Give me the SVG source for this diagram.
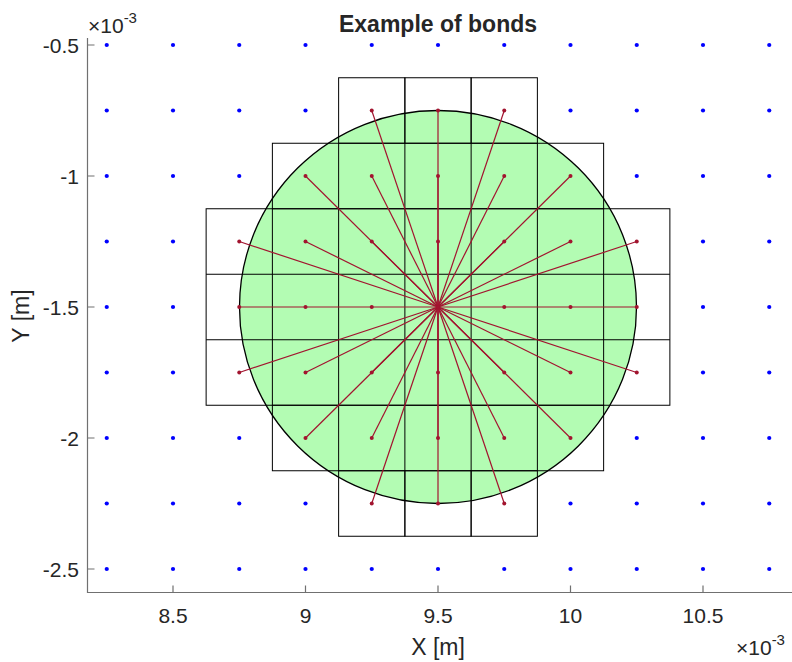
<svg xmlns="http://www.w3.org/2000/svg" xmlns:xlink="http://www.w3.org/1999/xlink" width="792" height="662" viewBox="0 0 792 662">
<style>
text{font-family:"Liberation Sans",Arial,sans-serif;fill:#262626}
.tk{font-size:21px}
.lab{font-size:23px}
.cell{fill:none;stroke:#000;stroke-width:1}
.bond line{stroke:#A2142F;stroke-width:1.2}
.ax{stroke:#707070;stroke-width:1.2;fill:none}
</style>
<defs>
<circle id="b" r="2.1" fill="#0000FF"/>
<circle id="r" r="2" fill="#A2142F"/>
</defs>
<rect width="792" height="662" fill="#fff"/>
<g id="circle"><ellipse cx="438" cy="307" rx="198.5" ry="196.5" fill="#B3FCB3" stroke="#000" stroke-width="1.3"/></g>
<g id="cells">
<rect class="cell" x="338.625" y="77.75" width="66.25" height="65.5"/>
<rect class="cell" x="404.875" y="77.75" width="66.25" height="65.5"/>
<rect class="cell" x="471.125" y="77.75" width="66.25" height="65.5"/>
<rect class="cell" x="272.375" y="143.25" width="331.25" height="65.5"/>
<line class="cell" x1="338.625" y1="143.25" x2="338.625" y2="208.75"/>
<line class="cell" x1="404.875" y1="143.25" x2="404.875" y2="208.75"/>
<line class="cell" x1="471.125" y1="143.25" x2="471.125" y2="208.75"/>
<line class="cell" x1="537.375" y1="143.25" x2="537.375" y2="208.75"/>
<rect class="cell" x="206.125" y="208.75" width="463.75" height="196.5"/>
<line class="cell" x1="206.125" y1="274.25" x2="669.875" y2="274.25"/>
<line class="cell" x1="206.125" y1="339.75" x2="669.875" y2="339.75"/>
<line class="cell" x1="272.375" y1="208.75" x2="272.375" y2="405.25"/>
<line class="cell" x1="338.625" y1="208.75" x2="338.625" y2="405.25"/>
<line class="cell" x1="404.875" y1="208.75" x2="404.875" y2="405.25"/>
<line class="cell" x1="471.125" y1="208.75" x2="471.125" y2="405.25"/>
<line class="cell" x1="537.375" y1="208.75" x2="537.375" y2="405.25"/>
<line class="cell" x1="603.625" y1="208.75" x2="603.625" y2="405.25"/>
<rect class="cell" x="272.375" y="405.25" width="331.25" height="65.5"/>
<line class="cell" x1="338.625" y1="405.25" x2="338.625" y2="470.75"/>
<line class="cell" x1="404.875" y1="405.25" x2="404.875" y2="470.75"/>
<line class="cell" x1="471.125" y1="405.25" x2="471.125" y2="470.75"/>
<line class="cell" x1="537.375" y1="405.25" x2="537.375" y2="470.75"/>
<rect class="cell" x="338.625" y="470.75" width="66.25" height="65.5"/>
<rect class="cell" x="404.875" y="470.75" width="66.25" height="65.5"/>
<rect class="cell" x="471.125" y="470.75" width="66.25" height="65.5"/>
</g>
<g id="connectors" class="bond">
<line x1="438" y1="307" x2="371.75" y2="110.5"/>
<line x1="438" y1="307" x2="438" y2="110.5"/>
<line x1="438" y1="307" x2="504.25" y2="110.5"/>
<line x1="438" y1="307" x2="305.5" y2="176"/>
<line x1="438" y1="307" x2="371.75" y2="176"/>
<line x1="438" y1="307" x2="438" y2="176"/>
<line x1="438" y1="307" x2="504.25" y2="176"/>
<line x1="438" y1="307" x2="570.5" y2="176"/>
<line x1="438" y1="307" x2="239.25" y2="241.5"/>
<line x1="438" y1="307" x2="305.5" y2="241.5"/>
<line x1="438" y1="307" x2="371.75" y2="241.5"/>
<line x1="438" y1="307" x2="438" y2="241.5"/>
<line x1="438" y1="307" x2="504.25" y2="241.5"/>
<line x1="438" y1="307" x2="570.5" y2="241.5"/>
<line x1="438" y1="307" x2="636.75" y2="241.5"/>
<line x1="438" y1="307" x2="239.25" y2="307"/>
<line x1="438" y1="307" x2="636.75" y2="307"/>
<line x1="438" y1="307" x2="239.25" y2="372.5"/>
<line x1="438" y1="307" x2="305.5" y2="372.5"/>
<line x1="438" y1="307" x2="371.75" y2="372.5"/>
<line x1="438" y1="307" x2="438" y2="372.5"/>
<line x1="438" y1="307" x2="504.25" y2="372.5"/>
<line x1="438" y1="307" x2="570.5" y2="372.5"/>
<line x1="438" y1="307" x2="636.75" y2="372.5"/>
<line x1="438" y1="307" x2="305.5" y2="438"/>
<line x1="438" y1="307" x2="371.75" y2="438"/>
<line x1="438" y1="307" x2="438" y2="438"/>
<line x1="438" y1="307" x2="504.25" y2="438"/>
<line x1="438" y1="307" x2="570.5" y2="438"/>
<line x1="438" y1="307" x2="371.75" y2="503.5"/>
<line x1="438" y1="307" x2="438" y2="503.5"/>
<line x1="438" y1="307" x2="504.25" y2="503.5"/>
</g>
<g id="family">
<use href="#r" x="371.75" y="110.5"/><use href="#r" x="438" y="110.5"/><use href="#r" x="504.25" y="110.5"/>
<use href="#r" x="305.5" y="176"/><use href="#r" x="371.75" y="176"/><use href="#r" x="438" y="176"/><use href="#r" x="504.25" y="176"/><use href="#r" x="570.5" y="176"/>
<use href="#r" x="239.25" y="241.5"/><use href="#r" x="305.5" y="241.5"/><use href="#r" x="371.75" y="241.5"/><use href="#r" x="438" y="241.5"/><use href="#r" x="504.25" y="241.5"/><use href="#r" x="570.5" y="241.5"/><use href="#r" x="636.75" y="241.5"/>
<use href="#r" x="239.25" y="307"/><use href="#r" x="305.5" y="307"/><use href="#r" x="371.75" y="307"/><use href="#r" x="438" y="307"/><use href="#r" x="504.25" y="307"/><use href="#r" x="570.5" y="307"/><use href="#r" x="636.75" y="307"/>
<use href="#r" x="239.25" y="372.5"/><use href="#r" x="305.5" y="372.5"/><use href="#r" x="371.75" y="372.5"/><use href="#r" x="438" y="372.5"/><use href="#r" x="504.25" y="372.5"/><use href="#r" x="570.5" y="372.5"/><use href="#r" x="636.75" y="372.5"/>
<use href="#r" x="305.5" y="438"/><use href="#r" x="371.75" y="438"/><use href="#r" x="438" y="438"/><use href="#r" x="504.25" y="438"/><use href="#r" x="570.5" y="438"/>
<use href="#r" x="371.75" y="503.5"/><use href="#r" x="438" y="503.5"/><use href="#r" x="504.25" y="503.5"/>
</g>
<g id="points">
<use href="#b" x="106.75" y="45"/><use href="#b" x="173" y="45"/><use href="#b" x="239.25" y="45"/><use href="#b" x="305.5" y="45"/><use href="#b" x="371.75" y="45"/><use href="#b" x="438" y="45"/><use href="#b" x="504.25" y="45"/><use href="#b" x="570.5" y="45"/><use href="#b" x="636.75" y="45"/><use href="#b" x="703" y="45"/><use href="#b" x="769.25" y="45"/>
<use href="#b" x="106.75" y="110.5"/><use href="#b" x="173" y="110.5"/><use href="#b" x="239.25" y="110.5"/><use href="#b" x="305.5" y="110.5"/><use href="#b" x="570.5" y="110.5"/><use href="#b" x="636.75" y="110.5"/><use href="#b" x="703" y="110.5"/><use href="#b" x="769.25" y="110.5"/>
<use href="#b" x="106.75" y="176"/><use href="#b" x="173" y="176"/><use href="#b" x="239.25" y="176"/><use href="#b" x="636.75" y="176"/><use href="#b" x="703" y="176"/><use href="#b" x="769.25" y="176"/>
<use href="#b" x="106.75" y="241.5"/><use href="#b" x="173" y="241.5"/><use href="#b" x="703" y="241.5"/><use href="#b" x="769.25" y="241.5"/>
<use href="#b" x="106.75" y="307"/><use href="#b" x="173" y="307"/><use href="#b" x="703" y="307"/><use href="#b" x="769.25" y="307"/>
<use href="#b" x="106.75" y="372.5"/><use href="#b" x="173" y="372.5"/><use href="#b" x="703" y="372.5"/><use href="#b" x="769.25" y="372.5"/>
<use href="#b" x="106.75" y="438"/><use href="#b" x="173" y="438"/><use href="#b" x="239.25" y="438"/><use href="#b" x="636.75" y="438"/><use href="#b" x="703" y="438"/><use href="#b" x="769.25" y="438"/>
<use href="#b" x="106.75" y="503.5"/><use href="#b" x="173" y="503.5"/><use href="#b" x="239.25" y="503.5"/><use href="#b" x="305.5" y="503.5"/><use href="#b" x="570.5" y="503.5"/><use href="#b" x="636.75" y="503.5"/><use href="#b" x="703" y="503.5"/><use href="#b" x="769.25" y="503.5"/>
<use href="#b" x="106.75" y="569"/><use href="#b" x="173" y="569"/><use href="#b" x="239.25" y="569"/><use href="#b" x="305.5" y="569"/><use href="#b" x="371.75" y="569"/><use href="#b" x="438" y="569"/><use href="#b" x="504.25" y="569"/><use href="#b" x="570.5" y="569"/><use href="#b" x="636.75" y="569"/><use href="#b" x="703" y="569"/><use href="#b" x="769.25" y="569"/>
</g>
<g id="axes">
<path class="ax" d="M87.5 38 V592.5 H792"/>
<path class="ax" d="M87.5 45 h7 M87.5 176 h7 M87.5 307 h7 M87.5 438 h7 M87.5 569 h7 M173 592.5 v-7 M305.5 592.5 v-7 M438 592.5 v-7 M570.5 592.5 v-7 M703 592.5 v-7"/>
<g class="tk" text-anchor="end">
<text x="79" y="52.5">-0.5</text>
<text x="79" y="183.5">-1</text>
<text x="79" y="314.5">-1.5</text>
<text x="79" y="445.5">-2</text>
<text x="79" y="576.5">-2.5</text>
</g>
<g class="tk" text-anchor="middle">
<text x="173" y="623">8.5</text>
<text x="305.5" y="623">9</text>
<text x="438" y="623">9.5</text>
<text x="570.5" y="623">10</text>
<text x="703" y="623">10.5</text>
</g>
<text class="tk" x="88" y="33">×10<tspan font-size="15" dy="-10">-3</tspan></text>
<text class="tk" x="736" y="655">×10<tspan font-size="15" dy="-10">-3</tspan></text>
<text class="lab" x="438" y="655" text-anchor="middle">X [m]</text>
<text class="lab" transform="translate(29 316) rotate(-90)" text-anchor="middle">Y [m]</text>
<text x="438" y="32" text-anchor="middle" font-size="23" font-weight="bold" fill="#000">Example of bonds</text>
</g>
</svg>
